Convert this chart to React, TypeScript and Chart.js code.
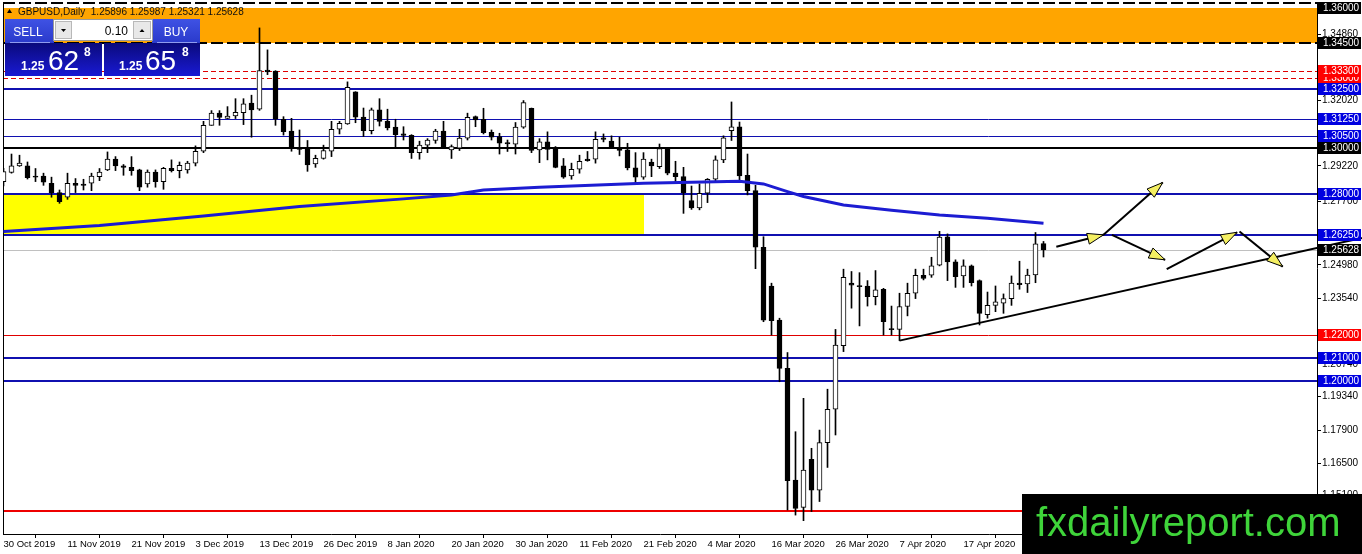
import React, { useEffect, useRef } from 'react';
import { Chart, registerables } from 'chart.js';

Chart.register(...registerables);

const FONT = "'Liberation Sans', Arial, sans-serif";

// ---- Daily candles, GBPUSD (bar index 0 = 30 Oct 2019) ----
const opens = [
  1.2855, 1.2894, 1.2922, 1.2922, 1.2879, 1.2879, 1.2848, 1.2808, 1.2788, 1.2848,
  1.2844, 1.2848, 1.2876, 1.2905, 1.2951, 1.2922, 1.2916, 1.2905, 1.2845, 1.2896,
  1.2855, 1.2912, 1.2902, 1.2905, 1.2934, 1.2985, 1.3096, 1.3148, 1.3126, 1.3136,
  1.3150, 1.3191, 1.3165, 1.3333, 1.3328, 1.3122, 1.3071, 1.2999, 1.2998, 1.2931,
  1.2954, 1.2985, 1.3079, 1.3102, 1.3239, 1.3131, 1.3073, 1.3162, 1.3113, 1.3088,
  1.3059, 1.3053, 1.2979, 1.3011, 1.3031, 1.3071, 1.2991, 1.2998, 1.3041, 1.3133,
  1.3122, 1.3066, 1.3048, 1.3022, 1.3015, 1.3088, 1.3169, 1.2991, 1.3025, 1.2996,
  1.2922, 1.2879, 1.2908, 1.2951, 1.2951, 1.3042, 1.3028, 1.2999, 1.2991, 1.2914,
  1.2874, 1.2939, 1.2919, 1.2996, 1.2891, 1.2876, 1.2774, 1.2742, 1.2805, 1.2865,
  1.2948, 1.3073, 1.3090, 1.2882, 1.2816, 1.2574, 1.2408, 1.2262, 1.2055, 1.1577,
  1.1460, 1.1666, 1.1534, 1.1737, 1.1880, 1.2152, 1.2420, 1.2408, 1.2408, 1.2362,
  1.2394, 1.2224, 1.2222, 1.2320, 1.2377, 1.2454, 1.2454, 1.2497, 1.2619, 1.2511,
  1.2451, 1.2494, 1.2431, 1.2285, 1.2325, 1.2334, 1.2354, 1.2420, 1.2417, 1.2455,
  1.25896,
];
const highs = [
  1.2912, 1.2973, 1.2968, 1.2939, 1.2911, 1.2891, 1.2874, 1.2819, 1.2891, 1.2868,
  1.2865, 1.2891, 1.2911, 1.2982, 1.2962, 1.2928, 1.2962, 1.2908, 1.2905, 1.2905,
  1.2916, 1.2948, 1.2939, 1.2942, 1.3008, 1.3113, 1.3159, 1.3159, 1.3176, 1.3210,
  1.3210, 1.3225, 1.3513, 1.3419, 1.3330, 1.3133, 1.3126, 1.3076, 1.3031, 1.2968,
  1.3011, 1.3113, 1.3113, 1.3282, 1.3240, 1.3170, 1.3170, 1.3210, 1.3165, 1.3122,
  1.3090, 1.3056, 1.3028, 1.3039, 1.3079, 1.3113, 1.3012, 1.3079, 1.3148, 1.3136,
  1.3169, 1.3076, 1.3062, 1.3033, 1.3108, 1.3202, 1.3170, 1.3039, 1.3068, 1.3005,
  1.2954, 1.2934, 1.2968, 1.2984, 1.3068, 1.3059, 1.3051, 1.3045, 1.3019, 1.2979,
  1.2979, 1.2951, 1.3016, 1.2998, 1.2942, 1.2916, 1.2836, 1.2845, 1.2868, 1.2965,
  1.3051, 1.3196, 1.3110, 1.2973, 1.2839, 1.2619, 1.2420, 1.2270, 1.2123, 1.1784,
  1.1927, 1.1713, 1.1791, 1.1966, 1.2222, 1.2480, 1.2470, 1.2465, 1.2431, 1.2474,
  1.2398, 1.2322, 1.2377, 1.2420, 1.2480, 1.2480, 1.2531, 1.2642, 1.2631, 1.2520,
  1.2520, 1.2498, 1.2434, 1.2382, 1.2408, 1.2374, 1.2451, 1.2514, 1.2480, 1.2637,
  1.25987,
];
const lows = [
  1.2836, 1.2891, 1.2920, 1.2866, 1.2855, 1.2839, 1.2788, 1.2762, 1.2779, 1.2808,
  1.2819, 1.2816, 1.2859, 1.2902, 1.2902, 1.2882, 1.2882, 1.2816, 1.2831, 1.2831,
  1.2822, 1.2896, 1.2871, 1.2891, 1.2922, 1.2979, 1.3096, 1.3096, 1.3125, 1.3125,
  1.3099, 1.3045, 1.3160, 1.3313, 1.3096, 1.3054, 1.2985, 1.2971, 1.2899, 1.2916,
  1.2951, 1.2962, 1.3059, 1.3100, 1.3107, 1.3048, 1.3059, 1.3093, 1.3076, 1.3002,
  1.3033, 1.2954, 1.2951, 1.2979, 1.3019, 1.2996, 1.2954, 1.2988, 1.3033, 1.3090,
  1.3059, 1.3033, 1.2973, 1.2984, 1.2973, 1.3083, 1.2979, 1.2936, 1.2948, 1.2914,
  1.2869, 1.2865, 1.2891, 1.2942, 1.2934, 1.3025, 1.2998, 1.2965, 1.2905, 1.2848,
  1.2865, 1.2876, 1.2911, 1.2884, 1.2855, 1.2719, 1.2736, 1.2734, 1.2765, 1.2854,
  1.2936, 1.3031, 1.2862, 1.2798, 1.2482, 1.2255, 1.2198, 1.1998, 1.1449, 1.1427,
  1.1403, 1.1442, 1.1485, 1.1631, 1.1770, 1.2127, 1.2313, 1.2237, 1.2322, 1.2327,
  1.2198, 1.2198, 1.2174, 1.2280, 1.2354, 1.2434, 1.2445, 1.2494, 1.2431, 1.2402,
  1.2402, 1.2408, 1.2241, 1.2270, 1.2298, 1.2291, 1.2325, 1.2394, 1.2380, 1.2422,
  1.25321,
];
const closes = [
  1.2898, 1.2922, 1.2934, 1.2872, 1.2874, 1.2852, 1.2808, 1.2769, 1.2848, 1.2839,
  1.2839, 1.2879, 1.2896, 1.2951, 1.2922, 1.2916, 1.2902, 1.2831, 1.2896, 1.2855,
  1.2912, 1.2902, 1.2925, 1.2934, 1.2985, 1.3096, 1.3148, 1.3130, 1.3136, 1.3152,
  1.3188, 1.3162, 1.3330, 1.3325, 1.3122, 1.3069, 1.2999, 1.2993, 1.2926, 1.2955,
  1.2988, 1.3079, 1.3105, 1.3259, 1.3131, 1.3073, 1.3162, 1.3113, 1.3085, 1.3056,
  1.3053, 1.2979, 1.3011, 1.3033, 1.3071, 1.2999, 1.3005, 1.3041, 1.3130, 1.3119,
  1.3065, 1.3045, 1.3019, 1.3016, 1.3088, 1.3193, 1.2988, 1.3025, 1.2993, 1.2916,
  1.2874, 1.2908, 1.2942, 1.2945, 1.3036, 1.3036, 1.3005, 1.2988, 1.2914, 1.2874,
  1.2951, 1.2922, 1.2996, 1.2891, 1.2876, 1.2808, 1.2742, 1.2805, 1.2865, 1.2948,
  1.3042, 1.3090, 1.2879, 1.2816, 1.2574, 1.2262, 1.2260, 1.2055, 1.1574, 1.1456,
  1.1620, 1.1534, 1.1737, 1.1880, 1.2155, 1.2445, 1.2411, 1.2405, 1.2362, 1.2391,
  1.2255, 1.2221, 1.2320, 1.2377, 1.2454, 1.2440, 1.2494, 1.2617, 1.2511, 1.2448,
  1.2494, 1.2422, 1.2291, 1.2325, 1.2340, 1.2354, 1.2420, 1.2414, 1.2455, 1.2588,
  1.25628,
];

// date tick labels (one every 8 bars)
const dateLabels = [
  '30 Oct 2019', '11 Nov 2019', '21 Nov 2019', '3 Dec 2019', '13 Dec 2019', '26 Dec 2019',
  '8 Jan 2020', '20 Jan 2020', '30 Jan 2020', '11 Feb 2020', '21 Feb 2020', '4 Mar 2020',
  '16 Mar 2020', '26 Mar 2020', '7 Apr 2020', '17 Apr 2020', '27 Apr 2020',
];
const barsPerDateLabel = 8;

// price scale tick labels (the ones not hidden by object tags)
const priceTicks = [
  1.3486, 1.3202, 1.2922, 1.277, 1.2498, 1.2354, 1.2074, 1.1934, 1.179, 1.165, 1.151,
];

// moving average (read at bar indexes)
const maBars = [0, 12, 25, 37, 50, 56, 60, 67, 80, 86, 92, 95, 98, 100, 105, 111, 117, 123, 130];
const maValues = [
  1.2641, 1.2667, 1.2708, 1.2748, 1.2781, 1.2798, 1.2819, 1.2831, 1.2848, 1.2852,
  1.2856, 1.2845, 1.2812, 1.2791, 1.2755, 1.2732, 1.2712, 1.2698, 1.2677,
];

// support trend line
const trendBars = [112, 169.8];
const trendValues = [1.2174, 1.2614];

// forecast arrows
const arrowFromBars = [131.6, 137.5, 138.55, 145.4, 154.5];
const arrowFromValues = [1.2576, 1.2627, 1.2627, 1.248, 1.2641];
const arrowToBars = [137.5, 144.9, 145.2, 154.2, 159.9];
const arrowToValues = [1.2627, 1.2851, 1.252, 1.2638, 1.2491];

// horizontal levels
const levelPrices = [1.345, 1.333, 1.33, 1.325, 1.3125, 1.305, 1.3, 1.28, 1.2625, 1.22, 1.21, 1.2, 1.1445];
const levelKinds = ['blackDash', 'redDash', 'redDash', 'blueThick', 'blueThin', 'blueThin', 'blackThick', 'blueThick', 'blueThick', 'redThin', 'blueThick', 'blueThick', 'redThick'];
const bidPrice = 1.25628;

// zones
const orangeZone = [1.345, 1.36];
const yellowZone = [1.2625, 1.28];
const yellowZoneEndBar = 80;

// price-axis tags
const tagPrices = [1.36, 1.345, 1.33, 1.333, 1.325, 1.3125, 1.305, 1.3, 1.28, 1.2625, 1.25628, 1.22, 1.21, 1.2];
const tagKinds = ['black', 'black', 'red', 'red', 'blue', 'blue', 'blue', 'black', 'blue', 'blue', 'black', 'red', 'blue', 'blue'];

const Y_MIN = 1.1346;
const Y_MAX = 1.3624;
const X_MIN = -0.0625;
const X_MAX = 164.1875;

const LINE_BLUE = '#1010b0';
const LINE_STYLES: Record<string, { color: string; width: number; dash: number[] }> = {
  blackDash: { color: '#000000', width: 2, dash: [12, 4] },
  redDash: { color: '#e00000', width: 1, dash: [5, 3] },
  blueThick: { color: LINE_BLUE, width: 2, dash: [] },
  blueThin: { color: LINE_BLUE, width: 1, dash: [] },
  blackThick: { color: '#000000', width: 2, dash: [] },
  redThin: { color: '#e00000', width: 1, dash: [] },
  redThick: { color: '#ee0000', width: 2, dash: [] },
};
const TAG_COLORS: Record<string, string> = { black: '#000000', red: '#ff0000', blue: '#0000e0' };

const crisp = (v: number, w: number) => (w % 2 === 1 ? Math.round(v) + 0.5 : Math.round(v));

const backgroundPlugin = {
  id: 'mt4Background',
  beforeDatasetsDraw(chart: any) {
    const { ctx, chartArea: a, scales } = chart;
    const x = scales.x;
    const y = scales.y;
    ctx.save();
    ctx.beginPath();
    ctx.rect(a.left, a.top, a.right - a.left, a.bottom - a.top);
    ctx.clip();

    const o1 = y.getPixelForValue(orangeZone[1]);
    const o2 = y.getPixelForValue(orangeZone[0]);
    ctx.fillStyle = '#ffa500';
    ctx.fillRect(a.left, Math.round(o1), a.right - a.left, Math.round(o2) - Math.round(o1));

    const y1 = y.getPixelForValue(yellowZone[1]);
    const y2 = y.getPixelForValue(yellowZone[0]);
    const xe = x.getPixelForValue(yellowZoneEndBar);
    ctx.fillStyle = '#ffff00';
    ctx.fillRect(a.left, Math.round(y1), Math.round(xe) - a.left, Math.round(y2) - Math.round(y1));

    ctx.strokeStyle = '#000';
    ctx.lineWidth = 2;
    ctx.setLineDash([12, 4]);
    ctx.beginPath();
    ctx.moveTo(a.left, a.top + 1);
    ctx.lineTo(a.right, a.top + 1);
    ctx.stroke();

    ctx.setLineDash([]);
    ctx.strokeStyle = '#c0c0c0';
    ctx.lineWidth = 1;
    const by = crisp(y.getPixelForValue(bidPrice), 1);
    ctx.beginPath();
    ctx.moveTo(a.left, by);
    ctx.lineTo(a.right, by);
    ctx.stroke();

    levelPrices.forEach((p, k) => {
      const s = LINE_STYLES[levelKinds[k]];
      const py = crisp(y.getPixelForValue(p), s.width);
      ctx.strokeStyle = s.color;
      ctx.lineWidth = s.width;
      ctx.setLineDash(s.dash);
      ctx.beginPath();
      ctx.moveTo(a.left, py);
      ctx.lineTo(a.right, py);
      ctx.stroke();
    });
    ctx.setLineDash([]);

    ctx.strokeStyle = '#000';
    ctx.lineWidth = 1;
    ctx.beginPath();
    ctx.moveTo(a.left + 0.5, a.top);
    ctx.lineTo(a.left + 0.5, a.bottom);
    ctx.stroke();
    ctx.restore();
  },
};

function drawArrow(ctx: CanvasRenderingContext2D, x1: number, y1: number, x2: number, y2: number) {
  ctx.strokeStyle = '#000';
  ctx.lineWidth = 2;
  ctx.beginPath();
  ctx.moveTo(x1, y1);
  ctx.lineTo(x2, y2);
  ctx.stroke();
  const ang = Math.atan2(y2 - y1, x2 - x1);
  const L = 16;
  const W = 5.5;
  const bx = x2 - L * Math.cos(ang);
  const by = y2 - L * Math.sin(ang);
  ctx.beginPath();
  ctx.moveTo(x2, y2);
  ctx.lineTo(bx + W * Math.sin(ang), by - W * Math.cos(ang));
  ctx.lineTo(bx - W * Math.sin(ang), by + W * Math.cos(ang));
  ctx.closePath();
  ctx.fillStyle = '#f4ef62';
  ctx.fill();
  ctx.lineWidth = 1;
  ctx.stroke();
}

function drawPanel(ctx: CanvasRenderingContext2D) {
  ctx.save();
  let g = ctx.createLinearGradient(0, 19, 0, 43);
  g.addColorStop(0, '#3f52e4');
  g.addColorStop(1, '#2a3acb');
  ctx.fillStyle = g;
  ctx.fillRect(5, 19, 49, 24);
  ctx.fillRect(152, 19, 48, 24);
  g = ctx.createLinearGradient(0, 43, 0, 77);
  g.addColorStop(0, '#0a0a7c');
  g.addColorStop(1, '#1a1ad6');
  ctx.fillStyle = g;
  ctx.fillRect(5, 43, 97, 33);
  ctx.fillRect(104, 43, 96, 33);
  ctx.strokeStyle = '#8f9cf0';
  ctx.lineWidth = 1;
  ctx.beginPath();
  ctx.moveTo(10, 42.5);
  ctx.lineTo(50, 42.5);
  ctx.moveTo(157, 42.5);
  ctx.lineTo(197, 42.5);
  ctx.stroke();
  ctx.fillStyle = '#ffffff';
  ctx.fillRect(53, 19, 100, 22);
  ctx.strokeStyle = '#9a9a9a';
  ctx.strokeRect(53.5, 19.5, 99, 21);
  ctx.fillStyle = '#e8e8e8';
  ctx.fillRect(55, 21, 17, 18);
  ctx.fillRect(133, 21, 18, 18);
  ctx.strokeStyle = '#b8b8b8';
  ctx.strokeRect(55.5, 21.5, 16, 17);
  ctx.strokeRect(133.5, 21.5, 17, 17);
  ctx.fillStyle = '#000';
  ctx.beginPath();
  ctx.moveTo(61, 29); ctx.lineTo(66, 29); ctx.lineTo(63.5, 32); ctx.closePath(); ctx.fill();
  ctx.beginPath();
  ctx.moveTo(139.5, 32); ctx.lineTo(144.5, 32); ctx.lineTo(142, 29); ctx.closePath(); ctx.fill();
  ctx.font = `12px ${FONT}`;
  ctx.textAlign = 'right';
  ctx.textBaseline = 'alphabetic';
  ctx.fillStyle = '#000';
  ctx.fillText('0.10', 128, 35);
  ctx.fillStyle = '#ffffff';
  ctx.textAlign = 'center';
  ctx.fillText('SELL', 28, 36);
  ctx.fillText('BUY', 176, 36);
  ctx.textAlign = 'left';
  ctx.font = `bold 12px ${FONT}`;
  ctx.fillText('1.25', 21, 70);
  ctx.fillText('1.25', 119, 70);
  ctx.font = `28px ${FONT}`;
  ctx.fillText('62', 48, 70);
  ctx.fillText('65', 145, 70);
  ctx.font = `bold 12px ${FONT}`;
  ctx.fillText('8', 84, 56);
  ctx.fillText('8', 182, 56);
  ctx.restore();
}

const overlayPlugin = {
  id: 'mt4Overlay',
  afterDatasetsDraw(chart: any) {
    const { ctx, scales } = chart;
    const x = scales.x;
    const y = scales.y;
    ctx.save();
    arrowFromBars.forEach((b, k) => {
      drawArrow(
        ctx,
        x.getPixelForValue(b),
        y.getPixelForValue(arrowFromValues[k]),
        x.getPixelForValue(arrowToBars[k]),
        y.getPixelForValue(arrowToValues[k]),
      );
    });
    ctx.restore();
  },
  afterDraw(chart: any) {
    const { ctx, chartArea: a, scales } = chart;
    const y = scales.y;
    ctx.save();
    ctx.font = `10px ${FONT}`;
    ctx.textBaseline = 'middle';
    ctx.textAlign = 'left';
    tagPrices.forEach((p, k) => {
      const py = Math.round(y.getPixelForValue(p));
      ctx.fillStyle = TAG_COLORS[tagKinds[k]];
      ctx.fillRect(a.right + 1, py - 6, 43, 12);
      ctx.fillStyle = '#ffffff';
      ctx.fillText(p.toFixed(5), a.right + 6, py + 0.5);
    });
    ctx.fillStyle = '#000';
    ctx.beginPath();
    ctx.moveTo(7, 13); ctx.lineTo(12, 13); ctx.lineTo(9.5, 9); ctx.closePath(); ctx.fill();
    ctx.font = `10px ${FONT}`;
    ctx.textBaseline = 'alphabetic';
    ctx.fillStyle = '#111';
    const hdr = `GBPUSD,Daily  ${opens[opens.length - 1].toFixed(5)} ${highs[highs.length - 1].toFixed(5)} ${lows[lows.length - 1].toFixed(5)} ${closes[closes.length - 1].toFixed(5)}`;
    ctx.fillText(hdr, 18, 14.5);
    drawPanel(ctx);
    ctx.fillStyle = '#000';
    ctx.fillRect(1022, 494, 340, 60);
    ctx.fillStyle = '#3fd43a';
    ctx.font = `40px ${FONT}`;
    ctx.textBaseline = 'alphabetic';
    ctx.fillText('fxdailyreport.com', 1036, 536);
    ctx.restore();
  },
};

export default function App() {
  const ref = useRef<HTMLCanvasElement>(null);
  useEffect(() => {
    document.body.style.margin = '0';
    const canvas = ref.current as HTMLCanvasElement;
    const bodyColors = opens.map((o, i) => (closes[i] >= o ? '#ffffff' : '#000000'));
    const chart = new Chart(canvas, {
      type: 'bar',
      data: {
        datasets: [
          {
            type: 'line',
            label: 'Trend',
            data: trendBars.map((b, k) => ({ x: b, y: trendValues[k] })),
            borderColor: '#000',
            borderWidth: 2,
            pointRadius: 0,
            clip: false as any,
            order: 0,
          } as any,
          {
            type: 'line',
            label: 'MA',
            data: maBars.map((b, k) => ({ x: b, y: maValues[k] })),
            borderColor: '#1c1cd2',
            borderWidth: 3,
            pointRadius: 0,
            tension: 0,
            order: 1,
          } as any,
          {
            type: 'bar',
            label: 'Body',
            data: opens.map((o, i) => ({ x: i, y: [o, closes[i]] })),
            backgroundColor: bodyColors,
            borderColor: '#000',
            borderWidth: 1,
            borderSkipped: false,
            barThickness: 5,
            minBarLength: 1,
            grouped: false,
            order: 2,
          } as any,
          {
            type: 'bar',
            label: 'Wick',
            data: lows.map((l, i) => ({ x: i, y: [l, highs[i]] })),
            backgroundColor: '#000',
            borderWidth: 0,
            barThickness: 1,
            grouped: false,
            order: 3,
          } as any,
        ],
      },
      options: {
        responsive: false,
        animation: false,
        events: [],
        layout: { padding: { left: 3, top: 2, right: 0, bottom: 0 }, autoPadding: false } as any,
        plugins: { legend: { display: false }, tooltip: { enabled: false } },
        scales: {
          x: {
            type: 'linear',
            min: X_MIN,
            max: X_MAX,
            offset: false,
            afterBuildTicks: (s: any) => {
              s.ticks = dateLabels.map((_, k) => ({ value: k * barsPerDateLabel }));
            },
            afterFit: (s: any) => {
              s.height = 20;
              s.paddingLeft = 0;
              s.paddingRight = 0;
            },
            grid: { drawOnChartArea: false, drawTicks: true, tickLength: 4, color: '#000' },
            border: { display: true, color: '#000', width: 1 },
            ticks: {
              callback: (_v: any, idx: number) => dateLabels[idx],
              align: 'start',
              maxRotation: 0,
              minRotation: 0,
              autoSkip: false,
              padding: 1,
              color: '#000',
              font: { family: FONT, size: 9.5 },
            },
          } as any,
          y: {
            type: 'linear',
            position: 'right',
            min: Y_MIN,
            max: Y_MAX,
            afterBuildTicks: (s: any) => {
              s.ticks = priceTicks.map((v) => ({ value: v }));
            },
            afterFit: (s: any) => {
              s.width = 45;
              s.paddingTop = 0;
              s.paddingBottom = 0;
            },
            grid: { drawOnChartArea: false, drawTicks: true, tickLength: 4, color: '#000' },
            border: { display: true, color: '#000', width: 1 },
            ticks: {
              callback: (v: any) => Number(v).toFixed(5),
              autoSkip: false,
              padding: 1,
              color: '#000',
              font: { family: FONT, size: 10 },
            },
          } as any,
        },
      },
      plugins: [backgroundPlugin, overlayPlugin],
    });
    return () => chart.destroy();
  }, []);
  return (
    <div style={{ position: 'absolute', left: 0, top: 0, width: 1362, height: 554, background: '#fff' }}>
      <canvas ref={ref} width={1362} height={554} style={{ display: 'block', width: 1362, height: 554 }} />
    </div>
  );
}
